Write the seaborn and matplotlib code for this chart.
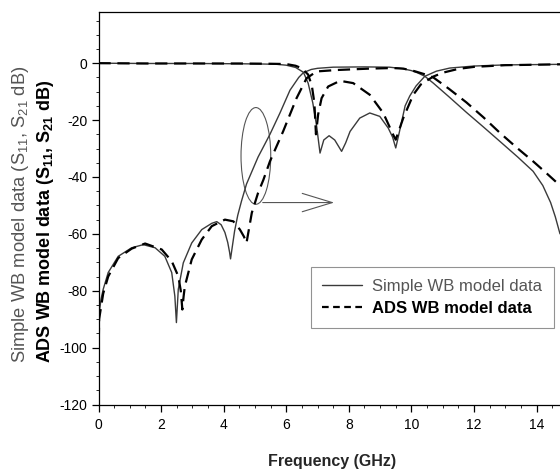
import numpy as np
import pandas as pd
import seaborn as sns
import matplotlib
matplotlib.use("Agg")
import matplotlib.pyplot as plt
from matplotlib.lines import Line2D
from matplotlib.patches import Ellipse
from matplotlib.ticker import MultipleLocator

# ---------------- data ----------------
simple_s21_f = [0.0, 0.02, 0.08, 0.15, 0.31, 0.63, 1.06, 1.43, 1.81, 2.12, 2.34, 2.44, 2.49,
                2.55, 2.71, 2.98, 3.3, 3.62, 3.78, 3.92, 4.04, 4.13, 4.19, 4.22, 4.27, 4.35,
                4.45, 4.57, 4.73, 5.1, 5.48, 5.8, 6.12, 6.4, 6.55, 6.8, 7.0, 7.5, 8.5, 9.3,
                9.7, 10.0, 10.2, 10.43, 10.7, 11.2, 11.76, 12.3, 12.83, 13.4, 13.89, 14.2,
                14.45, 14.6, 14.75]
simple_s21_db = [-105, -88, -83, -79.5, -73.6, -67.9, -64.9, -63.8, -64.9, -67.9, -73.6, -81.9, -91.2,
                 -79.5, -70.2, -63.2, -58.5, -56.3, -55.7, -56.8, -59.5, -63, -66.5, -68.8, -65, -59,
                 -53.5, -48.5, -42.5, -33, -25, -17.5, -9.5, -5, -3.3, -2.2, -1.8, -1.4, -1.3, -1.4,
                 -1.9, -2.6, -3.4, -4.6, -7, -11.8, -17.3, -22.4, -27.5, -33, -38, -43,
                 -49, -54, -60]

simple_s11_f = [0.0, 1.5, 3.0, 4.5, 5.3, 5.7, 6.0, 6.3, 6.55, 6.7, 6.85, 6.97, 7.08, 7.2, 7.37,
                7.55, 7.77, 7.9, 8.04, 8.35, 8.67, 8.99, 9.26, 9.4, 9.5, 9.6, 9.69, 9.8, 9.95,
                10.15, 10.43, 10.8, 11.23, 12.0, 13.0, 14.75]
simple_s11_db = [0.0, -0.1, -0.1, -0.2, -0.3, -0.4, -0.7, -1.5, -3.2, -7, -14, -22, -31.6, -27, -25.5,
                 -27, -31, -28, -24, -19.3, -17.5, -18.7, -22.8, -26, -29.8, -25, -20.5, -15, -11.5,
                 -8, -4.6, -2.8, -1.7, -1.0, -0.6, -0.4]

ads_s21_f = [0.0, 0.02, 0.15, 0.31, 0.63, 1.06, 1.49, 2.02, 2.34, 2.55, 2.63, 2.68, 2.72, 2.76,
             2.98, 3.3, 3.62, 4.04, 4.31, 4.52, 4.65, 4.73, 4.9, 5.1, 5.27, 5.48, 5.9, 6.33,
             6.65, 6.97, 7.61, 8.67, 9.4, 9.74, 10.1, 10.4, 10.7, 11.2, 11.76, 12.3, 12.83,
             13.4, 13.89, 14.3, 14.75]
ads_s21_db = [-104, -90, -81, -75, -68.5, -65.2, -63.4, -65.5, -69.6, -74.9, -80, -86.6, -82, -78.4,
              -69, -62, -57.3, -55, -55.6, -58.5, -61, -63.2, -52.6, -45.6, -41, -34.5, -24, -12.3,
              -5.3, -2.9, -2.4, -1.9, -1.7, -1.9, -2.8, -3.8, -5, -9, -13.8, -19, -24.5,
              -30, -34.5, -38.5, -43]

ads_s11_f = [0.0, 1.5, 3.0, 4.5, 5.5, 6.0, 6.3, 6.5, 6.7, 6.82, 6.9, 6.95, 7.02, 7.13, 7.34,
             7.72, 8.14, 8.67, 9.1, 9.42, 9.5, 9.74, 10.06, 10.3, 10.7, 11.02, 11.5, 12.0,
             13.0, 14.75]
ads_s11_db = [0.0, -0.1, -0.1, -0.1, -0.2, -0.3, -0.9, -1.8, -4, -8, -14, -25, -18, -12.3, -8.2,
              -6.2, -7, -11.1, -17.5, -25.2, -26.9, -19.3, -11.1, -7.5, -4.7, -3.3, -2, -1.3,
              -0.7, -0.4]

legend_labels = ["Simple WB model data", "ADS WB model data"]
x_ticks = [0, 2, 4, 6, 8, 10, 12, 14]
y_ticks = [-120, -100, -80, -60, -40, -20, 0]

# ---------------- style ----------------
sns.set_theme(style="ticks")
plt.rcParams["font.family"] = ["Liberation Sans", "DejaVu Sans"]
plt.rcParams["axes.unicode_minus"] = False
plt.rcParams["mathtext.fontset"] = "custom"
plt.rcParams["mathtext.rm"] = "Liberation Sans"
plt.rcParams["mathtext.bf"] = "Liberation Sans:bold"
plt.rcParams["mathtext.it"] = "Liberation Sans:italic"

W, H = 560, 473
fig = plt.figure(figsize=(W / 100, H / 100), dpi=100)
ax_left, ax_right, ax_top, ax_bottom = 98.5, 560, 12, 404.5
ax = fig.add_axes([ax_left / W, 1 - ax_bottom / H, (ax_right - ax_left) / W, (ax_bottom - ax_top) / H])

solid_kw = dict(color="#3a3a3a", linewidth=1.0, estimator=None, sort=False, ax=ax, legend=False)
dash_kw = dict(color="black", linewidth=1.6, estimator=None, sort=False, ax=ax, legend=False)

sns.lineplot(x=simple_s21_f, y=simple_s21_db, **solid_kw)
sns.lineplot(x=simple_s11_f, y=simple_s11_db, **solid_kw)
l1 = sns.lineplot(x=ads_s21_f, y=ads_s21_db, **dash_kw)
sns.lineplot(x=ads_s11_f, y=ads_s11_db, **dash_kw)
for ln in ax.get_lines()[2:]:
    ln.set_dashes((5.5, 3))

ax.set_xlim(0, 14.75)
ax.set_ylim(-120, 18)
ax.set_xticks(x_ticks)
ax.set_yticks(y_ticks)
ax.xaxis.set_minor_locator(MultipleLocator(0.5))
ax.yaxis.set_minor_locator(MultipleLocator(5))
ax.tick_params(axis="both", which="major", direction="out", length=5, width=0.9,
               labelsize=10, colors="black", pad=5)
ax.tick_params(axis="both", which="minor", direction="out", length=2.5, width=0.7)
ax.tick_params(axis="y", pad=3)
ax.spines["right"].set_visible(False)
for s in ["left", "bottom", "top"]:
    ax.spines[s].set_color("black")
    ax.spines[s].set_linewidth(0.9)
ax.set_xlabel("")
ax.set_ylabel("")

# annotation: ellipse + arrow
ell_center = (5.03, -32.6)
ax.add_patch(Ellipse(ell_center, width=0.95, height=34, angle=0, fill=False,
                     edgecolor="#555555", linewidth=0.8))
ax.annotate("", xy=(7.62, -49), xytext=(5.16, -49),
            arrowprops=dict(arrowstyle="->,head_length=1.8,head_width=0.55",
                            color="#555555", linewidth=0.8))

# legend
handles = [Line2D([], [], color="#3a3a3a", linewidth=1.0),
           Line2D([], [], color="black", linewidth=1.6, dashes=(3, 2))]
leg = ax.legend(handles, legend_labels, loc="lower left", bbox_to_anchor=(0.46, 0.195),
                fontsize=12, frameon=True, fancybox=False, handlelength=2.4,
                handletextpad=0.6, labelspacing=0.45, borderpad=0.7, borderaxespad=0)
leg.get_frame().set_edgecolor("#777777")
leg.get_frame().set_linewidth(0.8)
texts = leg.get_texts()
texts[0].set_color("#555555")
texts[1].set_color("black")
texts[1].set_fontweight("bold")

# axis labels
fig.text(332 / W, 1 - 461 / H, "Frequency (GHz)", ha="center", va="center",
         fontsize=11.5, fontweight="bold")
fig.text(21 / W, 1 - 363 / H, r"Simple WB model data (S$_{11}$, S$_{21}$ dB)",
         rotation=90, ha="center", va="bottom", fontsize=13.2, color="#555555")
fig.text(46 / W, 1 - 363 / H, r"ADS WB model data (S$_{\mathbf{11}}$, S$_{\mathbf{21}}$ dB)",
         rotation=90, ha="center", va="bottom", fontsize=13, fontweight="bold", color="black")

fig.savefig("out.png", dpi=100)
